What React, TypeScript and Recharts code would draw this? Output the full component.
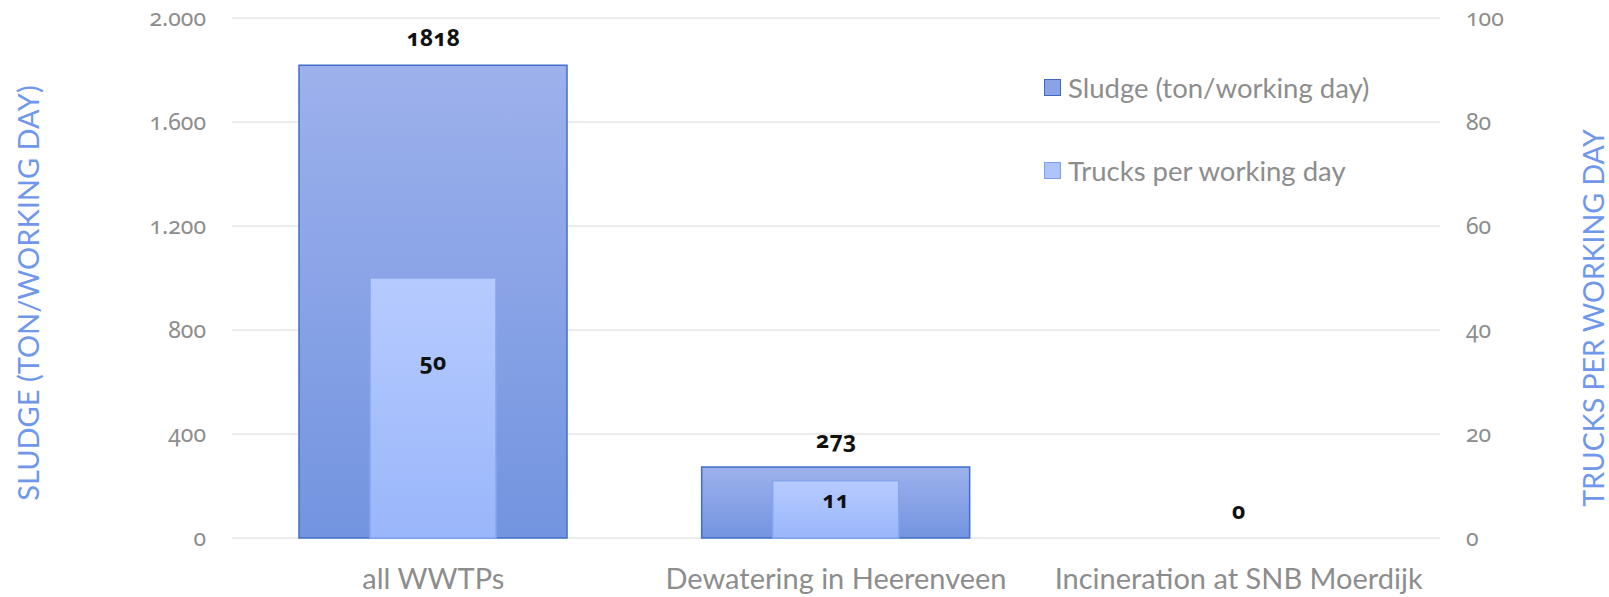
import React from 'react';
import { ComposedChart, Bar, Line, XAxis, YAxis, CartesianGrid, Legend, LabelList } from 'recharts';

const categories = ['all WWTPs', 'Dewatering in Heerenveen', 'Incineration at SNB Moerdijk'];
const sludgeValues = [1818, 273, 0];
const truckValues = [50, 11, 0];
const sludgeTicks = [0, 400, 800, 1200, 1600, 2000];
const truckTicks = [0, 20, 40, 60, 80, 100];
const seriesNames = ['Sludge (ton/working day)', 'Trucks per working day'];
const axisTitles = ['SLUDGE (TON/WORKING DAY)', 'TRUCKS PER WORKING DAY'];

const data = categories.map((name, i) => ({ name, sludge: sludgeValues[i], trucks: truckValues[i] }));

const FONT = 'Lato, "Open Sans", sans-serif';
const NUM_FONT = '"Noto Sans", Lato, sans-serif';
const GREY = '#8d8d8d';
const TITLE_BLUE = '#6f97ea';
const ONUM = { fontVariantNumeric: 'oldstyle-nums' as const, fontFeatureSettings: '"onum" 1' };

const fmt = (v: number) => String(v).replace(/\B(?=(\d{3})+(?!\d))/g, '.');

const swatches: Record<string, { fill: string; stroke: string }> = {
  sludge: { fill: '#8aa3e6', stroke: '#3d6ac0' },
  trucks: { fill: '#adc4fc', stroke: '#7d9de8' },
};

const LegendContent = (props: any) => {
  const payload = (props.payload || []).filter((p: any) => p.type !== 'none' && swatches[p.dataKey]);
  return (
    <div style={{ fontFamily: FONT, fontSize: 27.5, color: GREY }}>
      {payload.map((p: any, i: number) => {
        const sw = swatches[p.dataKey];
        return (
          <div key={i} style={{ display: 'flex', alignItems: 'center', height: 40, marginBottom: i === 0 ? 43 : 0, whiteSpace: 'nowrap' }}>
            <span style={{ display: 'inline-block', width: 15, height: 15, background: sw.fill, border: `1.5px solid ${sw.stroke}`, marginRight: 7 }} />
            <span>{p.value}</span>
          </div>
        );
      })}
    </div>
  );
};

const NumTick = (props: any) => {
  const { x, y, payload, textAnchor } = props;
  return (
    <text x={x} y={y} dy="0.355em" textAnchor={textAnchor} fill={GREY} fontSize={23} fontFamily={NUM_FONT} style={ONUM}>
      {fmt(payload.value)}
    </text>
  );
};

const SludgeLabel = (props: any) => {
  const { x, y, value } = props;
  if (value === undefined || value === null) return null;
  return (
    <text x={x} y={y - 19} textAnchor="middle"
      fontFamily={NUM_FONT} fontWeight={700} fontSize={23} fill="#111" style={ONUM}>
      {value}
    </text>
  );
};

const TruckLabel = (props: any) => {
  const { x, y, width, height, value } = props;
  if (!value) return null;
  return (
    <text x={x + width / 2} y={y + height * 0.32} textAnchor="middle" dominantBaseline="central"
      fontFamily={NUM_FONT} fontWeight={700} fontSize={23} fill="#111" style={ONUM}>
      {value}
    </text>
  );
};

const LeftTitle = (props: any) => {
  const vb = props.viewBox || { x: 0, y: 0, width: 0, height: 0 };
  const cx = vb.x + 27;
  const cy = vb.y + vb.height / 2 + 15;
  return (
    <text x={cx} y={cy} transform={`rotate(-90, ${cx}, ${cy})`} textAnchor="middle" dominantBaseline="central"
      fontFamily={FONT} fontSize={29} fill={TITLE_BLUE}>{axisTitles[0]}</text>
  );
};

const RightTitle = (props: any) => {
  const vb = props.viewBox || { x: 0, y: 0, width: 0, height: 0 };
  const cx = vb.x + vb.width - 16;
  const cy = vb.y + vb.height / 2 + 40;
  return (
    <text x={cx} y={cy} transform={`rotate(-90, ${cx}, ${cy})`} textAnchor="middle" dominantBaseline="central"
      fontFamily={FONT} fontSize={28.5} fill={TITLE_BLUE}>{axisTitles[1]}</text>
  );
};

export default function App() {
  return (
    <div style={{ position: 'absolute', left: 0, top: 0, width: 1609, height: 597, background: '#fff' }}>
      <ComposedChart width={1609} height={597} data={data} margin={{ top: 18, right: 0, bottom: 0, left: 0 }}
        style={{ fontFamily: FONT }}>
        <defs>
          <linearGradient id="sludgeGrad" x1="0" y1="0" x2="0" y2="1">
            <stop offset="0%" stopColor="#9db1ec" />
            <stop offset="100%" stopColor="#7394e0" />
          </linearGradient>
          <linearGradient id="truckGrad" x1="0" y1="0" x2="0" y2="1">
            <stop offset="0%" stopColor="#b6cbff" />
            <stop offset="100%" stopColor="#9ab6fa" />
          </linearGradient>
        </defs>
        <CartesianGrid yAxisId="left" xAxisId="main" vertical={false} stroke="#d9d9d9" strokeWidth={1.2} />
        <XAxis xAxisId="main" dataKey="name" height={59} interval={0} axisLine={false} tickLine={false}
          tickSize={0} tickMargin={30} tick={{ fill: GREY, fontSize: 29, fontFamily: FONT }} />
        <XAxis xAxisId="overlay" dataKey="name" hide />
        <YAxis yAxisId="left" orientation="left" width={232} domain={[0, 2000]} ticks={sludgeTicks}
          axisLine={false} tickLine={false} tickSize={0} tickMargin={26}
          tick={<NumTick />} label={{ content: LeftTitle }} />
        <YAxis yAxisId="right" orientation="right" width={169} domain={[0, 100]} ticks={truckTicks}
          axisLine={false} tickLine={false} tickSize={0} tickMargin={26}
          tick={<NumTick />} label={{ content: RightTitle }} />
        <Legend layout="vertical" align="center" verticalAlign="middle" content={LegendContent}
          wrapperStyle={{ left: 1044, top: 67, right: 'auto', bottom: 'auto', width: 420 }} />
        <Bar xAxisId="main" yAxisId="left" dataKey="sludge" name={seriesNames[0]} barSize={268}
          fill="url(#sludgeGrad)" stroke="#3f6fc8" strokeWidth={1.5} isAnimationActive={false} />
        <Bar xAxisId="overlay" yAxisId="right" dataKey="trucks" name={seriesNames[1]} barSize={126}
          fill="url(#truckGrad)" stroke="#86a5ec" strokeWidth={1.5} isAnimationActive={false}>
          <LabelList dataKey="trucks" content={TruckLabel} />
        </Bar>
        <Line xAxisId="main" yAxisId="left" dataKey="sludge" stroke="none" dot={false} activeDot={false}
          legendType="none" isAnimationActive={false}>
          <LabelList dataKey="sludge" content={SludgeLabel} />
        </Line>
      </ComposedChart>
    </div>
  );
}
